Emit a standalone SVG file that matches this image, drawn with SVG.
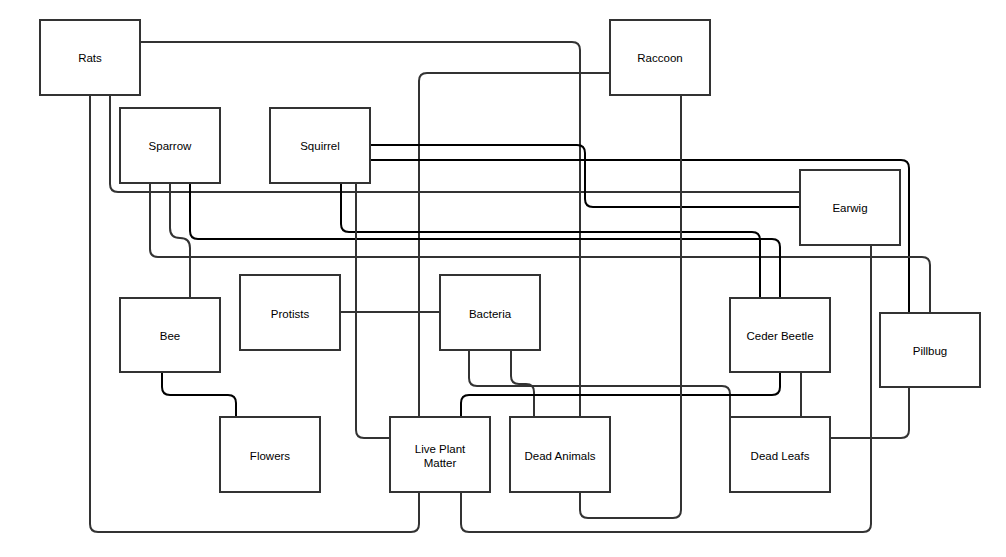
<svg xmlns="http://www.w3.org/2000/svg" width="1006" height="557" viewBox="0 0 1006 557">
<style>
.n rect{fill:#fff;stroke:#333;stroke-width:2}
.n text{font-family:"Liberation Sans",Arial,sans-serif;font-size:11.5px;fill:#000;text-anchor:middle}
.e path{fill:none;stroke-width:2}
.g{stroke:#333}
.k{stroke:#000}
</style>
<rect width="1006" height="557" fill="#fff"/>
<g id="connectors" class="e">
<path class="g" d="M140,42 H572 Q580,42 580,50 V417"/>
<path class="g" d="M610,73 H427 Q419,73 419,81 V417"/>
<path class="g" d="M90,95 V524 Q90,532 98,532 H411 Q419,532 419,524 V492"/>
<path class="g" d="M110,95 V184 Q110,192 118,192 H800"/>
<path class="k" d="M370,145 H577 Q585,145 585,153 V199 Q585,207 593,207 H800"/>
<path class="k" d="M370,160 H901 Q909,160 909,168 V313"/>
<path class="g" d="M150,183 V249 Q150,257 158,257 H922 Q930,257 930,265 V313"/>
<path class="g" d="M170,183 V228 Q170,238 180,238 Q190,238 190,248 V298"/>
<path class="k" d="M190,183 V231 Q190,239 198,239 H772 Q780,239 780,247 V298"/>
<path class="k" d="M341,183 V224 Q341,232 349,232 H752 Q760,232 760,240 V298"/>
<path class="g" d="M356,183 V430 Q356,438 364,438 H390"/>
<path class="g" d="M340,312 H440"/>
<path class="k" d="M162,372 V387 Q162,395 170,395 H228 Q236,395 236,403 V417"/>
<path class="g" d="M469,350 V378 Q469,386 477,386 H722 Q730,386 730,394 V417"/>
<path class="g" d="M511,350 V376 Q511,384 519,384 H526 Q534,384 534,392 V417"/>
<path class="k" d="M780,372 V387 Q780,395 772,395 H469 Q461,395 461,403 V417"/>
<path class="g" d="M801,372 V417"/>
<path class="g" d="M909,387 V430 Q909,438 901,438 H830"/>
<path class="g" d="M871,245 V524 Q871,532 863,532 H469 Q461,532 461,524 V492"/>
<path class="g" d="M681,95 V510 Q681,518 673,518 H588 Q580,518 580,510 V492"/>
</g>
<g id="rats" class="n"><rect x="40" y="20" width="100" height="75"/><text x="90" y="62">Rats</text></g>
<g id="raccoon" class="n"><rect x="610" y="20" width="100" height="75"/><text x="660" y="62">Raccoon</text></g>
<g id="sparrow" class="n"><rect x="120" y="108" width="100" height="75"/><text x="170" y="150">Sparrow</text></g>
<g id="squirrel" class="n"><rect x="270" y="108" width="100" height="75"/><text x="320" y="150">Squirrel</text></g>
<g id="earwig" class="n"><rect x="800" y="170" width="100" height="75"/><text x="850" y="212">Earwig</text></g>
<g id="bee" class="n"><rect x="120" y="298" width="100" height="74"/><text x="170" y="340">Bee</text></g>
<g id="protists" class="n"><rect x="240" y="275" width="100" height="75"/><text x="290" y="318">Protists</text></g>
<g id="bacteria" class="n"><rect x="440" y="275" width="100" height="75"/><text x="490" y="318">Bacteria</text></g>
<g id="ceder-beetle" class="n"><rect x="730" y="298" width="100" height="74"/><text x="780" y="340">Ceder Beetle</text></g>
<g id="pillbug" class="n"><rect x="880" y="313" width="100" height="74"/><text x="930" y="355">Pillbug</text></g>
<g id="flowers" class="n"><rect x="220" y="417" width="100" height="75"/><text x="270" y="460">Flowers</text></g>
<g id="live-plant-matter" class="n"><rect x="390" y="417" width="100" height="75"/><text x="440" y="453">Live Plant</text><text x="440" y="467">Matter</text></g>
<g id="dead-animals" class="n"><rect x="510" y="417" width="100" height="75"/><text x="560" y="460">Dead Animals</text></g>
<g id="dead-leafs" class="n"><rect x="730" y="417" width="100" height="75"/><text x="780" y="460">Dead Leafs</text></g>
</svg>
